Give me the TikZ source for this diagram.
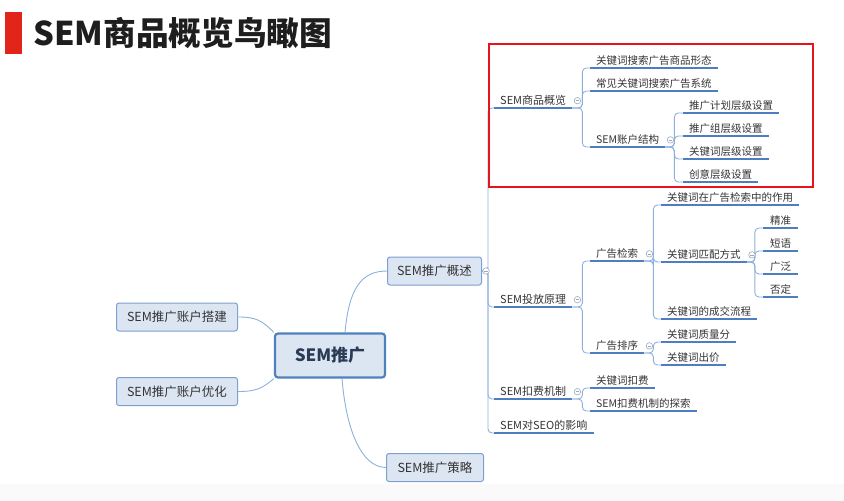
\documentclass[tikz,border=0pt]{standalone}
\usepackage{fontspec}
\setmainfont{Noto Sans CJK SC}
\usepackage{xcolor}
\definecolor{titleRed}  {HTML}{E1251B}
\definecolor{titleText} {HTML}{1E1E1E}
\definecolor{boxFill}   {HTML}{DCE6F2}
\definecolor{boxLine}   {HTML}{7E9FCF}
\definecolor{hubLine}   {HTML}{4F81BD}
\definecolor{hubText}   {HTML}{2B3A55}
\definecolor{topicText} {HTML}{333333}
\definecolor{underLine} {HTML}{4F7EC0}
\definecolor{branchLine}{HTML}{8DB0DC}
\definecolor{foldLine}  {HTML}{9AAABF}
\definecolor{frameRed}  {HTML}{E8141B}
\usetikzlibrary{positioning}
\tikzset{
    hub/.style={rounded corners=3pt, draw=hubLine, line width=2.2pt,
                fill=boxFill, minimum width=110pt, minimum height=44pt,
                font=\fontsize{17}{20}\selectfont\bfseries, text=hubText},
    box/.style={rounded corners=2.5pt, draw=boxLine, line width=1pt,
                fill=boxFill, minimum height=28pt,
                font=\fontsize{12.5}{15}\selectfont, text=topicText},
    uline/.style={draw=underLine, line width=1.6pt},
    topic/.style={anchor=south west, inner xsep=6pt, inner ysep=2pt,
                  font=\fontsize{10.5}{12}\selectfont, text=topicText,
                  append after command={(\tikzlastnode.south west)
                      edge[uline] (\tikzlastnode.south east)}},
    subtopic/.style={topic, font=\fontsize{11}{13}\selectfont},
    branch/.style={draw=branchLine, line width=0.9pt, rounded corners=4pt},
    mainlink/.style={draw=branchLine, line width=0.9pt},
    fold/.style={circle, draw=foldLine, line width=0.6pt, fill=white,
                 inner sep=0pt, minimum size=6.5pt,
                 path picture={\draw[foldLine, line width=0.6pt]
                     ([xshift=1.5pt]path picture bounding box.west) --
                     ([xshift=-1.5pt]path picture bounding box.east);}},
    redframe/.style={draw=frameRed, line width=2pt},
}
\begin{document}
\begin{tikzpicture}[x=1pt, y=-1pt]
    \useasboundingbox (0,0) rectangle (844,501);
    \fill[black!2] (0,484) rectangle (844,501);
    % title
    \node[fill=titleRed, inner sep=0pt, minimum width=17pt, minimum height=42pt,
          anchor=north west] (bar) at (5,12) {};
    \node[anchor=west, inner sep=0pt, font=\fontsize{32.7}{36}\selectfont\bfseries,
          text=titleText] (title) at (33,33) {SEM商品概览鸟瞰图};
    % centre and first level
    \node[hub] (hub) at (330,355.5) {SEM推广};
    \node[box, minimum width=94pt] (sum) at (434.5,271) {SEM推广概述};
    \node[box, minimum width=97pt] (strat) at (435,467.5) {SEM推广策略};
    \node[box, minimum width=121pt] (build) at (177,317) {SEM推广账户搭建};
    \node[box, minimum width=121pt] (tune) at (177,391.5) {SEM推广账户优化};
    \draw[mainlink] ([xshift=15pt]hub.north) .. controls +(4,-45) and +(-25,0) .. (sum.west);
    \draw[mainlink] ([xshift=12pt]hub.south) .. controls +(4,50) and +(-25,0) .. (strat.west);
    \draw[mainlink] (hub.north west) .. controls +(-12,-12) and +(18,0) .. (build.east);
    \draw[mainlink] (hub.south west) .. controls +(-12,10) and +(18,0) .. (tune.east);
    % second level
    \node[subtopic] (o1) at (494,108) {SEM商品概览};
    \node[subtopic] (o2) at (494,307) {SEM投放原理};
    \node[subtopic] (o3) at (494,399) {SEM扣费机制};
    \node[subtopic] (o4) at (494,433) {SEM对SEO的影响};
    \draw[branch] (sum.east) -- ++(6,0) |- (o1.south west);
    \draw[branch] (sum.east) -- ++(6,0) |- (o2.south west);
    \draw[branch] (sum.east) -- ++(6,0) |- (o3.south west);
    \draw[branch] (sum.east) -- ++(6,0) |- (o4.south west);
    % SEM商品概览
    \node[topic] (a1) at (590,68) {关键词搜索广告商品形态};
    \node[topic] (a2) at (590,91) {常见关键词搜索广告系统};
    \node[topic] (a3) at (590,147) {SEM账户结构};
    \draw[branch] (o1.south east) -- ++(10,0) |- (a1.south west);
    \draw[branch] (o1.south east) -- ++(10,0) |- (a2.south west);
    \draw[branch] (o1.south east) -- ++(10,0) |- (a3.south west);
    \node[topic] (b1) at (683,113) {推广计划层级设置};
    \node[topic] (b2) at (683,136) {推广组层级设置};
    \node[topic] (b3) at (683,159) {关键词层级设置};
    \node[topic] (b4) at (683,182) {创意层级设置};
    \draw[branch] (a3.south east) -- ++(9,0) |- (b1.south west);
    \draw[branch] (a3.south east) -- ++(9,0) |- (b2.south west);
    \draw[branch] (a3.south east) -- ++(9,0) |- (b3.south west);
    \draw[branch] (a3.south east) -- ++(9,0) |- (b4.south west);
    % SEM投放原理
    \node[topic] (c1) at (590,261) {广告检索};
    \node[topic] (c2) at (590,353) {广告排序};
    \draw[branch] (o2.south east) -- ++(10,0) |- (c1.south west);
    \draw[branch] (o2.south east) -- ++(10,0) |- (c2.south west);
    \node[topic] (d1) at (661,205) {关键词在广告检索中的作用};
    \node[topic] (d2) at (661,262) {关键词匹配方式};
    \node[topic] (d3) at (661,319) {关键词的成交流程};
    \draw[branch] (c1.south east) -- ++(9,0) |- (d1.south west);
    \draw[branch] (c1.south east) -- ++(9,0) |- (d2.south west);
    \draw[branch] (c1.south east) -- ++(9,0) |- (d3.south west);
    \node[topic, inner xsep=7pt] (e1) at (763,228) {精准};
    \node[topic, inner xsep=7pt] (e2) at (763,251) {短语};
    \node[topic, inner xsep=7pt] (e3) at (763,274) {广泛};
    \node[topic, inner xsep=7pt] (e4) at (763,297) {否定};
    \draw[branch] (d2.south east) -- ++(8,0) |- (e1.south west);
    \draw[branch] (d2.south east) -- ++(8,0) |- (e2.south west);
    \draw[branch] (d2.south east) -- ++(8,0) |- (e3.south west);
    \draw[branch] (d2.south east) -- ++(8,0) |- (e4.south west);
    \node[topic] (f1) at (661,342) {关键词质量分};
    \node[topic] (f2) at (661,365) {关键词出价};
    \draw[branch] (c2.south east) -- ++(9,0) |- (f1.south west);
    \draw[branch] (c2.south east) -- ++(9,0) |- (f2.south west);
    % SEM扣费机制
    \node[topic] (g1) at (590,388) {关键词扣费};
    \node[topic] (g2) at (590,411) {SEM扣费机制的探索};
    \draw[branch] (o3.south east) -- ++(10,0) |- (g1.south west);
    \draw[branch] (o3.south east) -- ++(10,0) |- (g2.south west);
    % fold marks
    \node[fold, right=0.5pt of sum] (sumf) {};
    \node[fold, right=1.5pt of o1] (o1f) {};
    \node[fold, right=1.5pt of o2] (o2f) {};
    \node[fold, right=1.5pt of o3] (o3f) {};
    \node[fold, right=1.5pt of a3] (a3f) {};
    \node[fold, right=1.5pt of c1] (c1f) {};
    \node[fold, right=1.5pt of c2] (c2f) {};
    \node[fold, right=1.5pt of d2] (d2f) {};
    % highlight
    \draw[redframe] (489,44) rectangle (813,187);
\end{tikzpicture}
\end{document}
